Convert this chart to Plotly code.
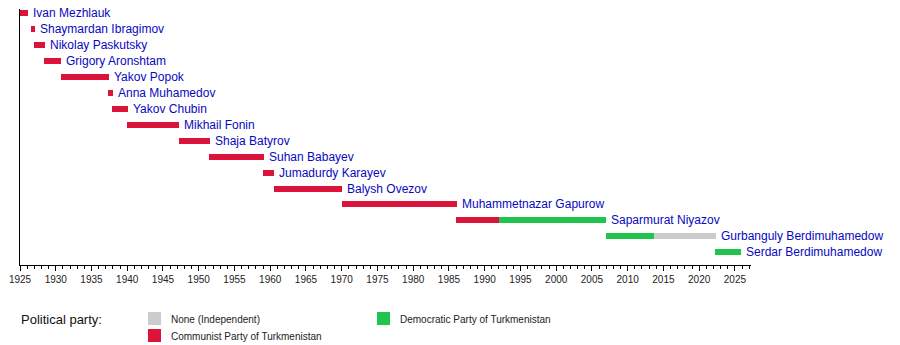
import plotly.graph_objects as go

# ---- data ----
leaders = [
    "Ivan Mezhlauk", "Shaymardan Ibragimov", "Nikolay Paskutsky", "Grigory Aronshtam",
    "Yakov Popok", "Anna Muhamedov", "Yakov Chubin", "Mikhail Fonin", "Shaja Batyrov",
    "Suhan Babayev", "Jumadurdy Karayev", "Balysh Ovezov", "Muhammetnazar Gapurow",
    "Saparmurat Niyazov", "Gurbanguly Berdimuhamedow", "Serdar Berdimuhamedow",
]
seg_leader = [0, 1, 2, 3, 4, 5, 6, 7, 8, 9, 10, 11, 12, 13, 13, 14, 14, 15]
seg_start = [1925.0, 1926.5, 1927.0, 1928.4, 1930.7, 1937.3, 1937.8, 1939.9, 1947.2,
             1951.5, 1959.0, 1960.5, 1970.0, 1986.0, 1991.95, 2006.97, 2013.7, 2022.25]
seg_end = [1926.15, 1927.1, 1928.5, 1930.8, 1937.4, 1938.0, 1940.05, 1947.3, 1951.6,
           1959.1, 1960.5, 1970.1, 1986.1, 1991.95, 2006.97, 2013.7, 2022.35, 2025.9]
seg_party = ["CPT", "CPT", "CPT", "CPT", "CPT", "CPT", "CPT", "CPT", "CPT",
             "CPT", "CPT", "CPT", "CPT", "CPT", "DPT", "DPT", "IND", "DPT"]

party_names = {"IND": "None (Independent)",
               "CPT": "Communist Party of Turkmenistan",
               "DPT": "Democratic Party of Turkmenistan"}
party_colors = {"IND": "#CCCCCC", "CPT": "#DC143C", "DPT": "#22C54B"}

x_range = [1925, 2027.25]
x_tick0 = 1925

# ---- layout geometry ----
W, H = 900, 345
L, R, T, B = 20, 149, 9, 80
PW, PH = W - L - R, H - T - B

def px(x):
    return (x - L) / PW

def py(y):
    return 1 - (y - T) / PH

fig = go.Figure()
for party in ["CPT", "DPT", "IND"]:
    idx = [i for i, p in enumerate(seg_party) if p == party]
    fig.add_trace(go.Bar(
        orientation="h",
        y=[seg_leader[i] for i in idx],
        base=[seg_start[i] for i in idx],
        x=[seg_end[i] - seg_start[i] for i in idx],
        width=0.38,
        marker=dict(color=party_colors[party], line=dict(width=0)),
        showlegend=False,
        hoverinfo="skip",
    ))

# name labels after each leader's last segment
annotations = []
for r, name in enumerate(leaders):
    end = max(seg_end[i] for i in range(len(seg_leader)) if seg_leader[i] == r)
    annotations.append(dict(
        x=end, y=r, xref="x", yref="y", text=name, showarrow=False,
        xanchor="left", yanchor="middle", xshift=3,
        font=dict(family="Liberation Sans, Arial", size=12, color="#0808BE"),
    ))

# custom legend
annotations.append(dict(
    x=px(19), y=py(319), xref="paper", yref="paper", text="Political party:",
    showarrow=False, xanchor="left", yanchor="middle",
    font=dict(family="Liberation Sans, Arial", size=13, color="#111111"),
))
shapes = []
legend_items = [("IND", 148, 312), ("CPT", 148, 329), ("DPT", 377, 312)]
for party, lx, ly in legend_items:
    shapes.append(dict(
        type="rect", xref="paper", yref="paper",
        x0=px(lx), x1=px(lx + 13), y0=py(ly), y1=py(ly + 13),
        fillcolor=party_colors[party], line=dict(width=0),
    ))
    annotations.append(dict(
        x=px(lx + 20.5), y=py(ly + 7.5), xref="paper", yref="paper",
        text=party_names[party], showarrow=False, xanchor="left", yanchor="middle",
        font=dict(family="Liberation Sans, Arial", size=10, color="#222222"),
    ))

fig.update_layout(
    width=W, height=H,
    margin=dict(l=L, r=R, t=T, b=B, pad=0),
    paper_bgcolor="white", plot_bgcolor="white",
    barmode="overlay", bargap=0,
    annotations=annotations, shapes=shapes,
    font=dict(family="Liberation Sans, Arial", size=10, color="#222222"),
)
fig.update_xaxes(
    range=x_range, tick0=x_tick0, dtick=5,
    ticks="outside", ticklen=5, tickcolor="black", tickwidth=1,
    showline=True, linecolor="black", linewidth=1,
    showgrid=False, zeroline=False,
    tickfont=dict(family="Liberation Sans, Arial", size=10, color="#222222"),
    minor=dict(dtick=1, tick0=x_tick0, ticks="outside", ticklen=3,
               tickcolor="black", tickwidth=1, showgrid=False),
)
fig.update_yaxes(
    range=[15.8, -0.27], showticklabels=False, ticks="",
    showline=True, linecolor="black", linewidth=1,
    showgrid=False, zeroline=False,
)

fig.write_html("out.html")
